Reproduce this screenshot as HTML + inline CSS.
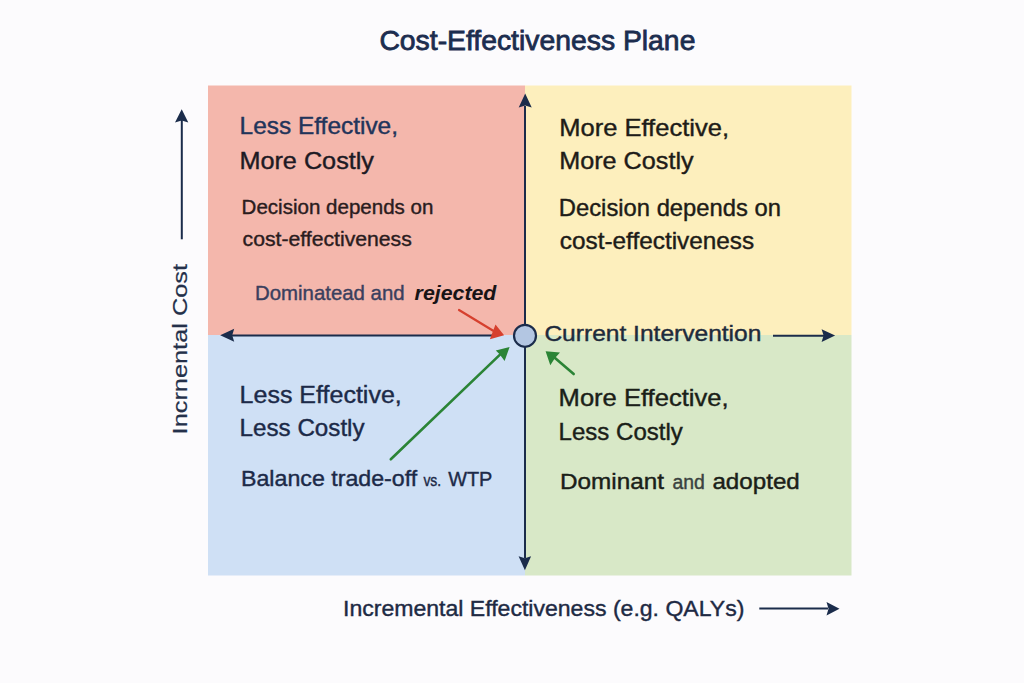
<!DOCTYPE html>
<html><head><meta charset="utf-8"><title>Cost-Effectiveness Plane</title>
<style>html,body{margin:0;padding:0;background:#fcfbfd;width:1024px;height:683px;overflow:hidden;}
svg{display:block;font-family:"Liberation Sans",sans-serif;}</style></head>
<body><svg width="1024" height="683" viewBox="0 0 1024 683" font-family="Liberation Sans, sans-serif"><rect x="208" y="85.5" width="317" height="249.5" fill="#f4b7ac"/><rect x="525" y="85.5" width="326.5" height="249.5" fill="#fdefbd"/><rect x="208" y="335" width="317" height="240.5" fill="#cfe0f5"/><rect x="525" y="335" width="326.5" height="240.5" fill="#d8e8c7"/><line x1="525" y1="106" x2="525" y2="558" stroke="#1b2c4b" stroke-width="2"/><path d="M525.2,93.5 L531.7,107.5 L525.2,105.5 L518.7,107.5 Z" fill="#1b2c4b"/><path d="M524.9,570.2 L518.6,556.2 L524.9,558.2 L531.1,556.2 Z" fill="#1b2c4b"/><line x1="232" y1="335.5" x2="492" y2="335.5" stroke="#1b2c4b" stroke-width="2"/><path d="M220.2,335.3 L234.2,328.8 L232.2,335.3 L234.2,341.8 Z" fill="#1b2c4b"/><line x1="773" y1="335.8" x2="824" y2="335.8" stroke="#1b2c4b" stroke-width="2"/><path d="M835.1,335.6 L821.6,342.0 L823.6,335.6 L821.6,329.2 Z" fill="#1b2c4b"/><line x1="181.8" y1="120" x2="181.8" y2="239.3" stroke="#1b2c4b" stroke-width="2"/><path d="M181.7,109.2 L188.3,122.5 L181.7,120.5 L175.0,122.5 Z" fill="#1b2c4b"/><line x1="759.3" y1="608.6" x2="828" y2="608.6" stroke="#1b2c4b" stroke-width="2"/><path d="M839.5,608.7 L826.5,615.4 L828.5,608.7 L826.5,602.0 Z" fill="#1b2c4b"/><line x1="459" y1="310" x2="494" y2="331.2" stroke="#d6402e" stroke-width="2.2" stroke-linecap="round"/><path d="M504.1,335.2 L495.5,324.4 L493.2,330.6 L489.9,339.2 Z" fill="#d6402e"/><line x1="390.8" y1="459.3" x2="500" y2="354.6" stroke="#2b8436" stroke-width="2.6" stroke-linecap="round"/><path d="M509.6,347 L495.8,350.5 L499.6,354.3 L504.6,361 Z" fill="#2b8436"/><line x1="573.7" y1="374" x2="555" y2="358" stroke="#2b8436" stroke-width="2.6" stroke-linecap="round"/><path d="M545.6,351.2 L560,352.4 L555,358 L550.3,365.3 Z" fill="#2b8436"/><circle cx="525" cy="335.8" r="11" fill="#b3c6e2" stroke="#1b2c4b" stroke-width="2.2"/><text id="title" x="379.40" y="50.1" font-size="28.5" fill="#1c2d4f" font-weight="normal" font-style="normal" textLength="316.00" lengthAdjust="spacingAndGlyphs" stroke="#1c2d4f" stroke-width="0.8">Cost-Effectiveness Plane</text><text id="tl1" x="239.60" y="134.2" font-size="23.7" fill="#22345a" font-weight="normal" font-style="normal" textLength="158.40" lengthAdjust="spacingAndGlyphs" stroke="#22345a" stroke-width="0.4">Less Effective,</text><text id="tl2" x="239.40" y="168.6" font-size="24" fill="#1d1a24" font-weight="normal" font-style="normal" textLength="134.60" lengthAdjust="spacingAndGlyphs" stroke="#1d1a24" stroke-width="0.4">More Costly</text><text id="tl3" x="241.60" y="214.2" font-size="21" fill="#2a1c1e" font-weight="normal" font-style="normal" textLength="191.80" lengthAdjust="spacingAndGlyphs" stroke="#2a1c1e" stroke-width="0.4">Decision depends on</text><text id="tl4" x="242.60" y="246.2" font-size="21" fill="#2a1c1e" font-weight="normal" font-style="normal" textLength="169.20" lengthAdjust="spacingAndGlyphs" stroke="#2a1c1e" stroke-width="0.4">cost-effectiveness</text><text id="dom" x="255.00" y="299.6" font-size="20.8" fill="#3a3f5e" font-weight="normal" font-style="normal" textLength="149.60" lengthAdjust="spacingAndGlyphs" stroke="#3a3f5e" stroke-width="0.4">Dominatead and</text><text id="rej" x="414.60" y="299.6" font-size="20.8" fill="#181416" font-weight="bold" font-style="italic" textLength="81.80" lengthAdjust="spacingAndGlyphs">rejected</text><text id="tr1" x="559.20" y="135.7" font-size="24" fill="#1e1c18" font-weight="normal" font-style="normal" textLength="169.80" lengthAdjust="spacingAndGlyphs" stroke="#1e1c18" stroke-width="0.4">More Effective,</text><text id="tr2" x="559.20" y="168.7" font-size="24" fill="#1e1c18" font-weight="normal" font-style="normal" textLength="134.40" lengthAdjust="spacingAndGlyphs" stroke="#1e1c18" stroke-width="0.4">More Costly</text><text id="tr3" x="558.80" y="215.9" font-size="23.6" fill="#1e1c18" font-weight="normal" font-style="normal" textLength="222.20" lengthAdjust="spacingAndGlyphs" stroke="#1e1c18" stroke-width="0.4">Decision depends on</text><text id="tr4" x="559.80" y="249.4" font-size="23.6" fill="#1e1c18" font-weight="normal" font-style="normal" textLength="194.40" lengthAdjust="spacingAndGlyphs" stroke="#1e1c18" stroke-width="0.4">cost-effectiveness</text><text id="cur" x="544.40" y="341.4" font-size="22.2" fill="#1e2b3c" font-weight="normal" font-style="normal" textLength="217.00" lengthAdjust="spacingAndGlyphs" stroke="#1e2b3c" stroke-width="0.4">Current Intervention</text><text id="bl1" x="239.60" y="402.5" font-size="24.2" fill="#1c2a48" font-weight="normal" font-style="normal" textLength="162.20" lengthAdjust="spacingAndGlyphs" stroke="#1c2a48" stroke-width="0.4">Less Effective,</text><text id="bl2" x="239.60" y="436" font-size="23.6" fill="#1c2a48" font-weight="normal" font-style="normal" textLength="125.00" lengthAdjust="spacingAndGlyphs" stroke="#1c2a48" stroke-width="0.4">Less Costly</text><text id="bl3" x="241.00" y="486" font-size="22.8" fill="#1c2a48" font-weight="normal" font-style="normal" textLength="176.20" lengthAdjust="spacingAndGlyphs" stroke="#1c2a48" stroke-width="0.4">Balance trade-off</text><text id="vs" x="423.40" y="485.5" font-size="17" fill="#1c2a48" font-weight="normal" font-style="normal" textLength="17.80" lengthAdjust="spacingAndGlyphs" stroke="#1c2a48" stroke-width="0.4">vs.</text><text id="wtp" x="448.20" y="485.7" font-size="21" fill="#1c2a48" font-weight="normal" font-style="normal" textLength="44.20" lengthAdjust="spacingAndGlyphs" stroke="#1c2a48" stroke-width="0.4">WTP</text><text id="br1" x="558.60" y="406.3" font-size="24" fill="#1a2018" font-weight="normal" font-style="normal" textLength="170.00" lengthAdjust="spacingAndGlyphs" stroke="#1a2018" stroke-width="0.4">More Effective,</text><text id="br2" x="558.60" y="439.6" font-size="23.2" fill="#1a2018" font-weight="normal" font-style="normal" textLength="124.20" lengthAdjust="spacingAndGlyphs" stroke="#1a2018" stroke-width="0.4">Less Costly</text><text id="br3" x="560.00" y="489.2" font-size="21.4" fill="#1a2018" font-weight="normal" font-style="normal" textLength="104.00" lengthAdjust="spacingAndGlyphs" stroke="#1a2018" stroke-width="0.4">Dominant</text><text id="and" x="672.40" y="489.2" font-size="20" fill="#3a4240" font-weight="normal" font-style="normal" textLength="32.40" lengthAdjust="spacingAndGlyphs" stroke="#3a4240" stroke-width="0.4">and</text><text id="ado" x="712.40" y="489.2" font-size="21.4" fill="#1a2018" font-weight="normal" font-style="normal" textLength="87.40" lengthAdjust="spacingAndGlyphs" stroke="#1a2018" stroke-width="0.4">adopted</text><text id="xax" x="343.00" y="616.3" font-size="22.3" fill="#1e2a44" font-weight="normal" font-style="normal" textLength="401.40" lengthAdjust="spacingAndGlyphs" stroke="#1e2a44" stroke-width="0.4">Incremental Effectiveness (e.g. QALYs)</text><text id="yax" x="-2.10" y="0" font-size="21" fill="#24304a" stroke="#24304a" stroke-width="0.2" textLength="170.40" lengthAdjust="spacingAndGlyphs" transform="translate(187.3,432.3) rotate(-90)">Incrnental Cost</text></svg></body></html>
